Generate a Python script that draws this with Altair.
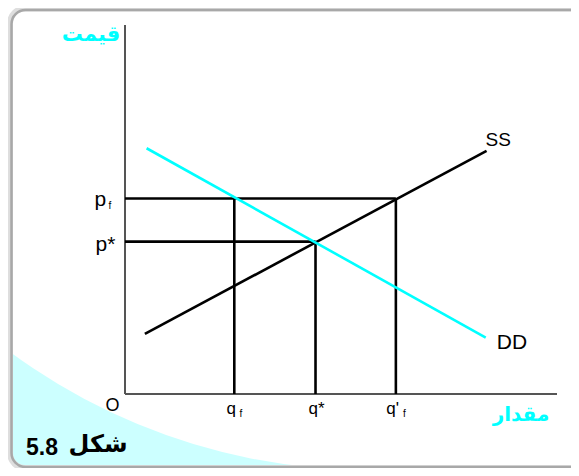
import altair as alt
import pandas as pd

# ---- data (conceptual units, 0..100 on both axes) ----
q_names = ["q", "q*", "q'"]
q_subs = ["f", "", "f"]
q_values = [25.3, 44.1, 62.7]          # qf, q*, q'f
p_names = ["p", "p*"]
p_subs = ["f", ""]
p_values = [53.0, 41.3]                # pf, p*

ss_q = [4.6, 83.7]
ss_p = [16.3, 65.9]
dd_q = [5.0, 83.5]
dd_p = [66.6, 15.3]

axis_max = 100

# ---- scales ----
xs = alt.Scale(domain=[0, axis_max])
ys = alt.Scale(domain=[0, axis_max])
X = alt.X("q:Q", scale=xs, axis=None)
Y = alt.Y("p:Q", scale=ys, axis=None)
one = pd.DataFrame({"a": [0]})

LAT = "Liberation Sans"
FA = "DejaVu Sans"
CYAN = "#00ffff"


def txt(text, x, y, dx, dy, size, color="black", font=LAT, weight="normal",
        baseline="alphabetic", align="center"):
    df = pd.DataFrame({"q": [x], "p": [y], "t": [text]})
    return alt.Chart(df).mark_text(
        dx=dx, dy=dy, fontSize=size, color=color, font=font,
        fontWeight=weight, baseline=baseline, align=align
    ).encode(x=X, y=Y, text="t:N")


# ---- decoration: frame and cyan corner ----
cyan_corner = alt.Chart(one).mark_rect(
    color="#ccffff", cornerRadiusBottomLeft=14
).encode(x=alt.value(-112.5), x2=alt.value(255), y=alt.value(315), y2=alt.value(442))
white_disc = alt.Chart(one).mark_point(
    shape="circle", filled=True, color="white", opacity=1, strokeWidth=0, size=1456849
).encode(x=alt.value(243.5), y=alt.value(-158.5))
frame_shadow = alt.Chart(one).mark_rect(
    fillOpacity=0, stroke="#dedede", strokeWidth=6, cornerRadius=15
).encode(x=alt.value(-115), x2=alt.value(470), y=alt.value(-16.5), y2=alt.value(443))
frame = alt.Chart(one).mark_rect(
    fillOpacity=0, stroke="#a8a8a8", strokeWidth=2.5, cornerRadius=14
).encode(x=alt.value(-113.5), x2=alt.value(470), y=alt.value(-15), y2=alt.value(442))

# ---- axes ----
axes_df = pd.DataFrame({
    "q": [0, 0], "q2": [0, axis_max],
    "p": [0, 0], "p2": [axis_max, 0],
})
axes = alt.Chart(axes_df).mark_rule(color="#555555", strokeWidth=2).encode(
    x=X, x2="q2:Q", y=Y, y2="p2:Q")

# ---- guide lines ----
h_df = pd.DataFrame({
    "q": [0, 0], "q2": [q_values[2], q_values[1]],
    "p": [p_values[0], p_values[1]], "p2": [p_values[0], p_values[1]],
})
v_tops = [p_values[0], p_values[1], p_values[0]]
v_df = pd.DataFrame({"q": q_values, "q2": q_values, "p": [0, 0, 0], "p2": v_tops})
guides = alt.Chart(pd.concat([h_df, v_df])).mark_rule(
    color="black", strokeWidth=2.6).encode(x=X, x2="q2:Q", y=Y, y2="p2:Q")

# ---- curves ----
ss = alt.Chart(pd.DataFrame({"q": ss_q, "p": ss_p})).mark_line(
    color="black", strokeWidth=2.6).encode(x=X, y=Y)
dd = alt.Chart(pd.DataFrame({"q": dd_q, "p": dd_p})).mark_line(
    color=CYAN, strokeWidth=2.6).encode(x=X, y=Y)

# ---- labels ----
labels = [
    txt("SS", ss_q[1], ss_p[1], 11.6, -4.7, 19),
    txt("DD", dd_q[1], dd_p[1], 26.3, 11.6, 21),
    txt("O", 0, 0, -12.5, 17, 18),
    # price labels
    txt(p_names[0], 0, p_values[0], -24.7, 7.7, 21),
    txt(p_subs[0], 0, p_values[0], -15, 11, 10),
    txt(p_names[1], 0, p_values[1], -19.5, 9.3, 21),
    # quantity labels
    txt(q_names[0], q_values[0], 0, -3, 20, 17),
    txt(q_subs[0], q_values[0], 0, 6.5, 23, 10),
    txt(q_names[1], q_values[1], 0, 1, 20, 17),
    txt(q_names[2], q_values[2], 0, -3.3, 20, 17),
    txt(q_subs[2], q_values[2], 0, 8.5, 23, 10),
    # Persian texts
    txt("قیمت", 0, axis_max, -34, 10, 21, color=CYAN, font=FA, weight="bold", baseline="middle"),
    txt("مقدار", axis_max, 0, -36, 21, 20, color=CYAN, font=FA, weight="bold", baseline="middle"),
    txt("شکل", 0, 0, -27, 51, 24, font=FA, weight="bold", baseline="middle"),
    txt("5.8", 0, 0, -83, 61, 23, font=LAT, weight="bold"),
]

chart = alt.layer(
    cyan_corner, white_disc, frame_shadow, frame,
    axes, guides, ss, dd, *labels
).properties(
    width=432, height=369,
    padding={"left": 117, "top": 17, "right": 14, "bottom": 74},
    autosize=alt.AutoSizeParams(type="none"),
    background="white",
).configure_view(stroke=None)

chart.save("out.html", embed_options={"renderer": "svg", "actions": False})
